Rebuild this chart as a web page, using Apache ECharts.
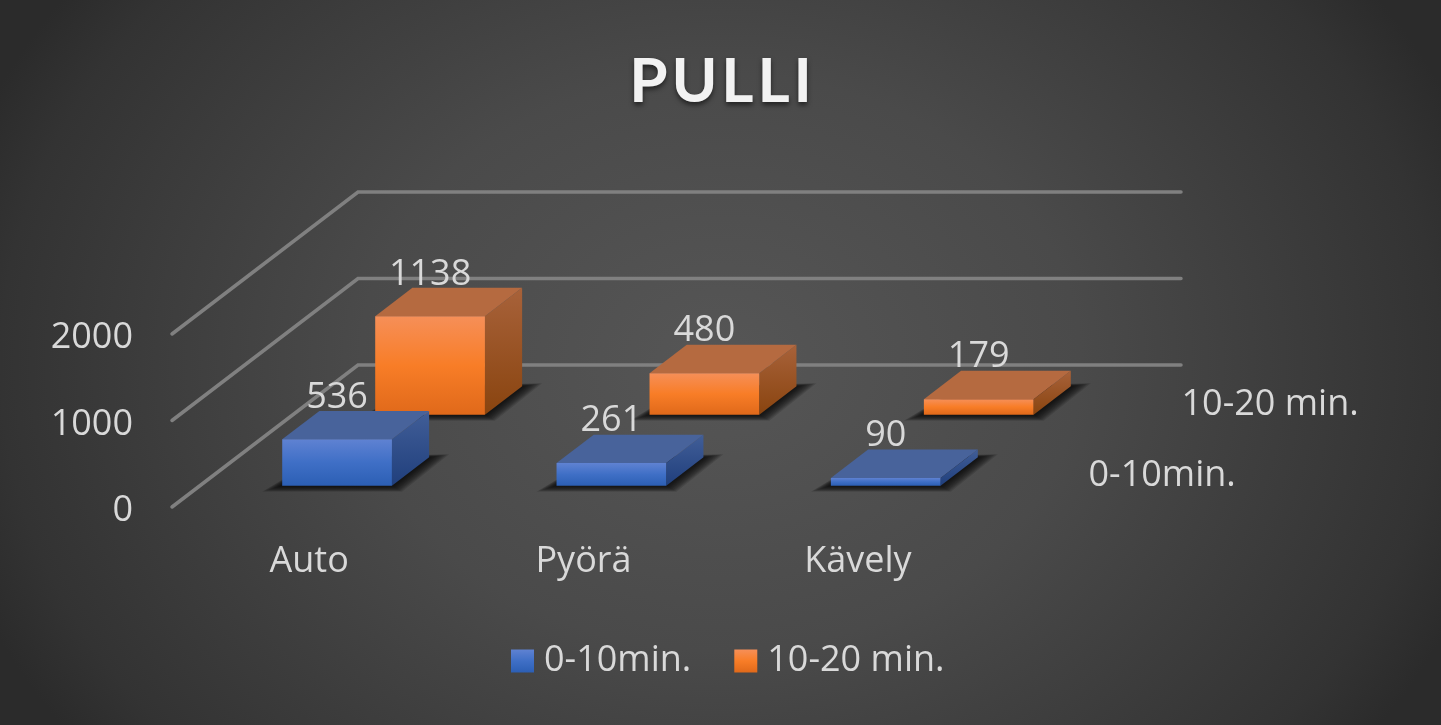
<!DOCTYPE html>
<html>
<head>
<meta charset="utf-8">
<style>
html,body{margin:0;padding:0;width:1441px;height:725px;overflow:hidden;background:#3a3a3a}
#chart{width:1441px;height:725px;background:radial-gradient(ellipse 800px 640px at 50% 50%,#565656 0%,#4a4a4a 45%,#333333 90%,#2b2b2b 100%)}
</style>
<script src="https://cdn.jsdelivr.net/npm/echarts@6/dist/echarts.min.js"></script>
</head>
<body>
<div id="chart"></div>
<script>
const titleText = 'P\u200AU\u200AL\u200AL\u200AI';
const categories = ['Auto', 'Pyörä', 'Kävely'];
const seriesNames = ['0-10min.', '10-20 min.'];
const values0to10 = [536, 261, 90];
const values10to20 = [1138, 480, 179];
const yTicks = [0, 1000, 2000];

const FONT = '"Open Sans", sans-serif';
const TEXT = '#d9d9d9';
const DEPTH_X = 0.339, DEPTH_Y = -0.2588; // one series slot, as a share of the category band
const BAR_W = 0.4, BAR_D = 0.4;
const SHADOW_STEPS = [20, 18, 16, 14, 12, 10, 8, 6, 4, 2];

function vgrad(stops) {
  return { type: 'linear', x: 0, y: 0, x2: 0, y2: 1,
    colorStops: stops.map((c, i) => ({ offset: stops.length > 1 ? i / (stops.length - 1) : 0, color: c })) };
}
const palettes = [
  { front: vgrad(['#5f82d2', '#3f6fc6', '#2c5fb4']), side: vgrad(['#415e98', '#203f7c']), top: '#48639b' },
  { front: vgrad(['#f68f58', '#f87d27', '#e0691a']), side: vgrad(['#a8623a', '#89440f']), top: '#b56a40' }
];

function barSeries(index, values) {
  const pal = palettes[index];
  return {
    type: 'custom', name: seriesNames[index], z: 10 - index,
    itemStyle: { color: pal.front },
    data: values.map((v, i) => [i, v]),
    renderItem(params, api) {
      const base = api.coord([api.value(0), 0]);
      const head = api.coord([api.value(0), api.value(1)]);
      const band = api.size([1, 0])[0];
      const sx = band * DEPTH_X, sy = band * DEPTH_Y;
      const w = band * BAR_W;
      const dx = sx * BAR_D, dy = sy * BAR_D;
      const gapX = sx * (1 - BAR_D) / 2 + sx * index, gapY = sy * (1 - BAR_D) / 2 + sy * index;
      const L = base[0] - w / 2 + gapX, R = L + w;
      const B = base[1] + gapY, T = head[1] + gapY;
      const shadows = SHADOW_STEPS.map(e => ({
        type: 'polygon',
        shape: { points: [[L - e, B + e * 0.3], [R + e * 0.5, B + e * 0.3], [R + dx + e, B + dy - e * 0.15], [L + dx, B + dy]] },
        style: { fill: 'rgba(0,0,0,0.13)' }
      }));
      return {
        type: 'group',
        children: shadows.concat([
          { type: 'polygon', shape: { points: [[R, B], [R + dx, B + dy], [R + dx, T + dy], [R, T]] }, style: { fill: pal.side } },
          { type: 'polygon', shape: { points: [[L, T], [R, T], [R + dx, T + dy], [L + dx, T + dy]] }, style: { fill: pal.top } },
          { type: 'rect', shape: { x: L, y: T, width: w, height: B - T }, style: { fill: pal.front } },
          { type: 'text', style: { text: String(api.value(1)), x: (L + R) / 2, y: T - 42, align: 'center', verticalAlign: 'middle',
              fill: TEXT, font: '36px ' + FONT } }
        ])
      };
    }
  };
}

const option = {
  backgroundColor: 'transparent',
  animation: false,
  title: {
    text: titleText, left: 'center', top: 46,
    textStyle: { fontFamily: 'Lato, ' + FONT, fontSize: 62, fontWeight: 'bold', color: '#f2f2f2',
      textShadowColor: 'rgba(0,0,0,0.55)', textShadowBlur: 5, textShadowOffsetY: 3 }
  },
  legend: {
    left: 511, top: 643, padding: 0, icon: 'rect', itemWidth: 23, itemHeight: 23, itemGap: 43,
    data: seriesNames,
    textStyle: { fontFamily: FONT, fontSize: 36, color: TEXT, padding: [0, 0, 0, 5] }
  },
  grid: { left: 172, top: 334, width: 823, height: 173 },
  xAxis: {
    type: 'category', data: categories,
    axisLine: { show: false }, axisTick: { show: false }, splitLine: { show: false },
    axisLabel: { fontFamily: FONT, fontSize: 36, color: TEXT, margin: 37 }
  },
  yAxis: {
    type: 'value', min: 0, max: 2000, interval: 1000,
    axisLine: { show: false }, axisTick: { show: false }, splitLine: { show: false },
    axisLabel: { fontFamily: FONT, fontSize: 36, color: TEXT, margin: 39, verticalAlign: 'top', padding: [-14, 0, 0, 0], formatter: v => String(v) }
  },
  series: [
    {
      type: 'custom', name: 'walls', z: 1, silent: true,
      data: yTicks.map(v => [0, v]),
      renderItem(params, api) {
        const sys = params.coordSys;
        const band = api.size([1, 0])[0];
        const y = api.coord([0, api.value(1)])[1];
        const bx = sys.x + 2 * band * DEPTH_X, by = y + 2 * band * DEPTH_Y;
        return { type: 'polyline', shape: { points: [[sys.x, y], [bx, by], [bx + sys.width, by]] },
          style: { fill: null, stroke: '#808080', lineWidth: 3.5, lineCap: 'round', lineJoin: 'miter' } };
      }
    },
    {
      type: 'custom', name: 'depthLabels', z: 2, silent: true,
      data: seriesNames.map((n, i) => [i, n]),
      encode: { x: 0 },
      renderItem(params, api) {
        const sys = params.coordSys;
        const band = api.size([1, 0])[0];
        const i = params.dataIndex;
        const x = sys.x + sys.width + band * DEPTH_X * (i + 0.5) + 47;
        const y = sys.y + sys.height + band * DEPTH_Y * (i + 0.5) + 4;
        return { type: 'text', style: { text: seriesNames[i], x, y, align: 'left', verticalAlign: 'middle', fill: TEXT, font: '36px ' + FONT } };
      }
    },
    barSeries(0, values0to10),
    barSeries(1, values10to20)
  ]
};
const chart = echarts.init(document.getElementById('chart'), null, { renderer: 'canvas', width: 1441, height: 725 });
chart.setOption(option);
</script>
</body>
</html>
